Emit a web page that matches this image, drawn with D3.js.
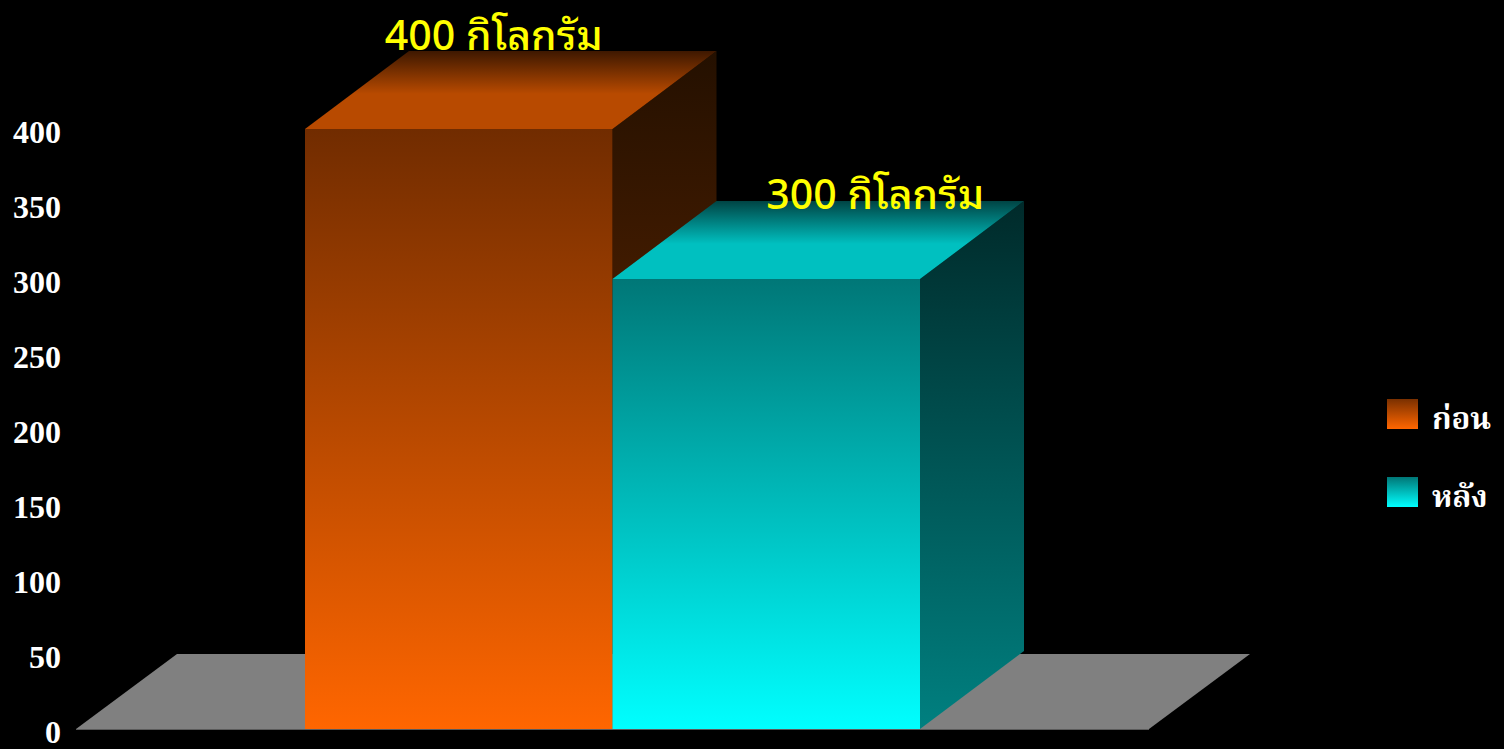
<!DOCTYPE html>
<meta charset="utf-8">
<script src="https://d3js.org/d3.v7.min.js"></script>
<style>
  body { margin: 0; background: #000; }
</style>
<div id="chart"></div>
<script>

// data
const categories = ["ก่อน", "หลัง"]
const values = [400, 300]
const valueLabels = ["400 กิโลกรัม", "300 กิโลกรัม"]
const yTicks = [0, 50, 100, 150, 200, 250, 300, 350, 400]

// size of the page
const width = 1504, height = 749

// 3d depth of the boxes and the floor
const depth = {dx: 104, dy: 78}
const floorDepth = {dx: 101, dy: 75}
const floorPad = 229

// hand nudges for the value labels (they were placed by hand in the original)
const labelNudge = [[-69, -1], [5, 8]]

// colours: [dark, bright] for front, top, side
const palette = [
  {front: ["#712c00", "#ff6600"], top: ["#3e1800", "#b84a00"], side: ["#241000", "#7a3000"], legend: ["#7a3000", "#ff6600"]},
  {front: ["#007777", "#00ffff"], top: ["#004444", "#00c0c0"], side: ["#002a2a", "#008080"], legend: ["#007777", "#00ffff"]}
]

const svg = d3.select("#chart")
  .append("svg")
    .attr("width", width)
    .attr("height", height)
    .style("background", "#000")

const x = d3.scaleBand()
  .domain(categories)
  .range([305, 920])
  .padding(0)

const y = d3.scaleLinear()
  .domain([0, 400])
  .range([729, 129])

const defs = svg.append("defs")

function vgrad(id, c0, c1, stops) {
  const g = defs.append("linearGradient")
    .attr("id", id)
    .attr("x1", 0).attr("y1", 0).attr("x2", 0).attr("y2", 1)
  ;(stops || [[0, c0], [1, c1]]).forEach(s =>
    g.append("stop").attr("offset", s[0]).attr("stop-color", s[1]))
}

palette.forEach((p, i) => {
  vgrad("front" + i, p.front[0], p.front[1])
  vgrad("top" + i, null, null, [[0, p.top[0]], [0.55, p.top[1]], [1, p.top[1]]])
  vgrad("side" + i, p.side[0], p.side[1])
  vgrad("legend" + i, p.legend[0], p.legend[1])
})

// floor
const fx0 = x.range()[0] - floorPad, fx1 = x.range()[1] + floorPad, fy = y(0)
svg.append("polygon")
  .attr("points", [
    [fx0, fy], [fx1, fy],
    [fx1 + floorDepth.dx, fy - floorDepth.dy], [fx0 + floorDepth.dx, fy - floorDepth.dy]
  ].join(" "))
  .attr("fill", "#808080")
svg.append("line")
  .attr("x1", fx0).attr("x2", fx1).attr("y1", fy + 0.5).attr("y2", fy + 0.5)
  .attr("stroke", "#5a5a5a")

// bars
const bars = svg.selectAll("g.bar")
  .data(categories.map((c, i) => ({cat: c, value: values[i], i: i})))
  .join("g")
    .attr("class", "bar")

bars.each(function(d) {
  const g = d3.select(this)
  const x0 = x(d.cat), x1 = x0 + x.bandwidth()
  const yt = y(d.value), yb = y(0)
  const {dx, dy} = depth
  // side
  g.append("polygon")
    .attr("points", [[x1, yt], [x1 + dx, yt - dy], [x1 + dx, yb - dy], [x1, yb]].join(" "))
    .attr("fill", "url(#side" + d.i + ")")
  // top
  g.append("polygon")
    .attr("points", [[x0, yt], [x0 + dx, yt - dy], [x1 + dx, yt - dy], [x1, yt]].join(" "))
    .attr("fill", "url(#top" + d.i + ")")
  // front
  g.append("rect")
    .attr("x", x0).attr("y", yt)
    .attr("width", x.bandwidth()).attr("height", yb - yt)
    .attr("fill", "url(#front" + d.i + ")")
})

// value labels
svg.selectAll("text.value")
  .data(valueLabels)
  .join("text")
    .attr("class", "value")
    .attr("x", (d, i) => x(categories[i]) + x.bandwidth() / 2 + depth.dx + labelNudge[i][0])
    .attr("y", (d, i) => y(values[i]) - depth.dy + labelNudge[i][1])
    .attr("text-anchor", "middle")
    .attr("fill", "#ffff00")
    .style("font-family", "'Noto Sans Thai Looped', 'Noto Sans Thai', 'Noto Sans', sans-serif")
    .style("font-size", "41px")
    .style("font-weight", "500")
    .text(d => d)

// y axis (labels only)
const yAxis = svg.append("g")
  .attr("transform", "translate(61,0)")
  .call(d3.axisLeft(y).tickValues(yTicks).tickSize(0).tickPadding(0))
yAxis.select(".domain").remove()
yAxis.selectAll("text")
  .attr("fill", "#fff")
  .attr("dy", "0.42em")
  .style("font-family", "'Liberation Serif', 'Times New Roman', serif")
  .style("font-weight", "bold")
  .style("font-size", "32px")

// legend
const legend = svg.selectAll("g.legend")
  .data(categories)
  .join("g")
    .attr("class", "legend")
    .attr("transform", (d, i) => "translate(1387," + (399 + i * 78) + ")")
legend.append("rect")
  .attr("width", 31).attr("height", 30)
  .attr("fill", (d, i) => "url(#legend" + i + ")")
legend.append("text")
  .attr("x", 45).attr("y", 30)
  .attr("fill", "#fff")
  .style("font-family", "'Liberation Serif', 'Noto Serif Thai', 'Noto Sans Thai', serif")
  .style("font-weight", "bold")
  .style("font-size", "31px")
  .text(d => d)

</script>
